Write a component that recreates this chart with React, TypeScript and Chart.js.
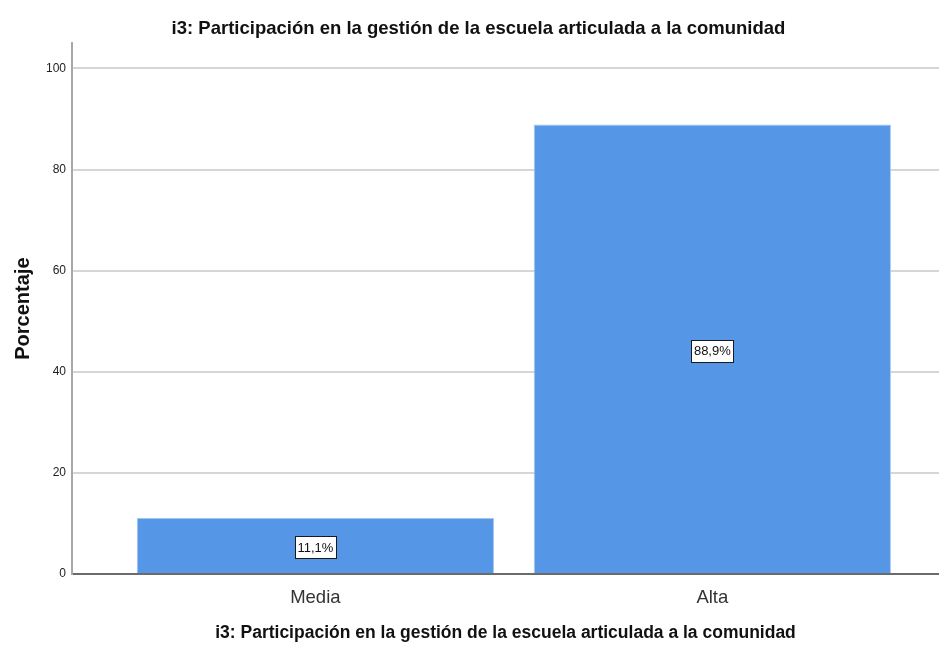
import React, { useEffect, useRef } from "react";
import { Chart, registerables } from "chart.js";

Chart.register(...registerables);

const categories: string[] = ["Media", "Alta"];
const percentages: number[] = [11.1, 88.9];
const yTicks: number[] = [0, 20, 40, 60, 80, 100];
const chartTitle = "i3: Participación en la gestión de la escuela articulada a la comunidad";
const xTitle = "i3: Participación en la gestión de la escuela articulada a la comunidad";
const yTitle = "Porcentaje";

const FONT = "'Liberation Sans', Arial, sans-serif";

const barLabelPlugin = {
  id: "barLabels",
  afterLayout(chart: any) {
    const tb = chart.titleBlock;
    if (tb) {
      tb.left += 9;
      tb.right += 9;
    }
  },
  afterDatasetsDraw(chart: any) {
    const ctx = chart.ctx;
    const meta = chart.getDatasetMeta(0);
    ctx.save();
    ctx.font = `13px ${FONT}`;
    ctx.textAlign = "center";
    ctx.textBaseline = "middle";
    meta.data.forEach((el: any, i: number) => {
      const { x, y, base } = el.getProps(["x", "y", "base"], true);
      const cy = (y + base) / 2 + 2;
      const text = percentages[i].toFixed(1).replace(".", ",") + "%";
      const w = ctx.measureText(text).width + 5;
      const h = 22;
      ctx.fillStyle = "#ffffff";
      ctx.fillRect(Math.round(x - w / 2) + 0.5, Math.round(cy - h / 2) + 0.5, Math.round(w), h);
      ctx.strokeStyle = "#1a1a1a";
      ctx.lineWidth = 1;
      ctx.strokeRect(Math.round(x - w / 2) + 0.5, Math.round(cy - h / 2) + 0.5, Math.round(w), h);
      ctx.fillStyle = "#111111";
      ctx.fillText(text, x, cy + 1);
    });
    ctx.restore();
  },
};

export default function App() {
  const canvasRef = useRef<HTMLCanvasElement | null>(null);

  useEffect(() => {
    if (!canvasRef.current) return;
    const chart = new Chart(canvasRef.current, {
      type: "bar",
      data: {
        datasets: [
          {
            data: categories.map((c, i) => ({ x: i + 1, y: percentages[i] })),
            backgroundColor: "#5596e6",
            borderColor: "#a6c6f2",
            borderWidth: 1,
            categoryPercentage: 0.9,
            barPercentage: 1,
          },
        ],
      },
      options: {
        animation: false,
        responsive: false,
        maintainAspectRatio: false,
        layout: { padding: 0 },
        plugins: {
          legend: { display: false },
          tooltip: { enabled: false },
          title: {
            display: true,
            text: chartTitle,
            color: "#111111",
            font: { family: FONT, size: 18.5, weight: "bold", lineHeight: 1.2 },
            padding: { top: 18, bottom: 3 },
          },
        },
        scales: {
          x: {
            type: "linear",
            offset: false,
            min: 0.387,
            max: 2.571,
            afterBuildTicks: (scale: any) => {
              scale.ticks = categories.map((c, i) => ({ value: i + 1 }));
            },
            afterFit: (scale: any) => {
              scale.height = 74;
            },
            ticks: {
              autoSkip: false,
              maxRotation: 0,
              padding: 13,
              color: "#333333",
              font: { family: FONT, size: 18.5 },
              callback: (v: any) => categories[Number(v) - 1] ?? "",
            },
            grid: { display: false, drawTicks: false, offset: false },
            border: { color: "#6b6b6b", width: 2 },
            title: {
              display: true,
              text: xTitle,
              color: "#111111",
              font: { family: FONT, size: 17.5, weight: "bold", lineHeight: 1.2 },
              padding: { top: 0, bottom: 4 },
            },
          },
          y: {
            min: 0,
            max: 105,
            afterBuildTicks: (scale: any) => {
              scale.ticks = yTicks.map((v) => ({ value: v }));
            },
            afterFit: (scale: any) => {
              scale.width = 72;
            },
            ticks: {
              padding: 6,
              color: "#222222",
              font: { family: FONT, size: 12 },
            },
            grid: { color: "#d6d6d6", lineWidth: 2, drawTicks: false },
            border: { color: "#a8a8a8", width: 2 },
            title: {
              display: true,
              text: yTitle,
              color: "#111111",
              font: { family: FONT, size: 20, weight: "bold", lineHeight: 1.2 },
              padding: { top: 11, bottom: 0 },
            },
          },
        },
      },
      plugins: [barLabelPlugin],
    } as any);
    return () => chart.destroy();
  }, []);

  return (
    <div style={{ position: "absolute", left: 0, top: 0, width: 939, height: 648, background: "#ffffff" }}>
      <canvas ref={canvasRef} width={939} height={648} style={{ width: 939, height: 648 }} />
    </div>
  );
}
